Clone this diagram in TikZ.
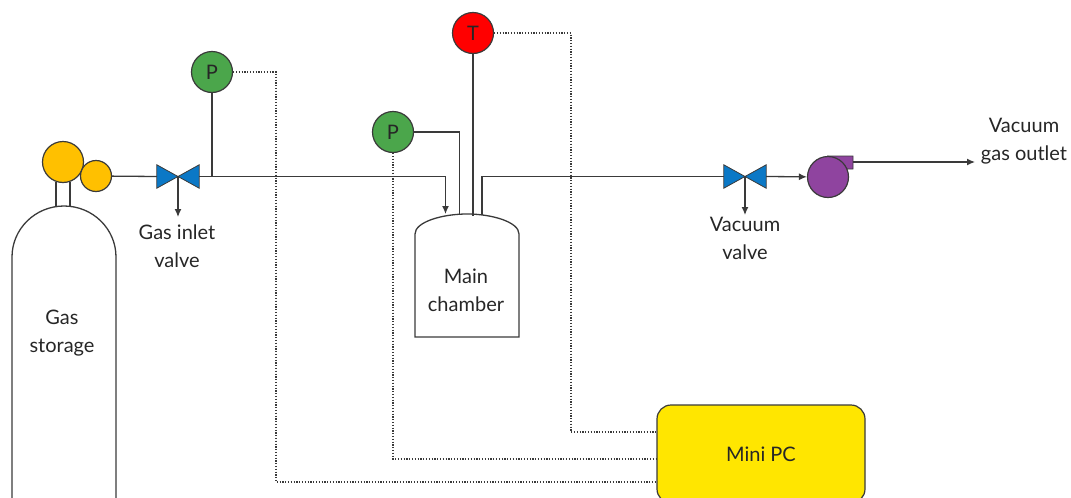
\documentclass[tikz,border=0pt]{standalone}
\usepackage{fontspec}
\setmainfont{Lato}
\usetikzlibrary{arrows.meta, positioning}
\definecolor{linegray}{HTML}{3A3A3A}
\definecolor{gasorange}{HTML}{FFC000}
\definecolor{valveblue}{HTML}{0B78C6}
\definecolor{gaugegreen}{HTML}{4BA64B}
\definecolor{pumppurple}{HTML}{8F449F}
\definecolor{pcyellow}{HTML}{FFE600}
\tikzset{
        >={Latex[length=8pt, width=7pt]}, % arrow heads of the pipes
        x=1pt, y=-1pt, % one unit is one pixel of the picture, y points down
        every node/.style={font=\fontsize{20}{28}\selectfont, align=center, text=black!85}, % sets the labels
        pipe/.style={draw=linegray, line width=1.3pt}, % solid gas lines
        signal/.style={draw=linegray, line width=1.1pt, dash pattern=on 1.2pt off 1.6pt}, % dotted sensor wires
        gauge/.style={circle, draw=linegray, line width=1.2pt, minimum size=41pt, inner sep=0pt}, % sensor circles
        valve/.style={minimum width=42pt, minimum height=23pt, inner sep=0pt}, % box around the valve blades
        blade/.style={draw=linegray, line width=0.8pt, fill=valveblue},
    }
\begin{document}
\begin{tikzpicture}
    \useasboundingbox (0,0) rectangle (1071,498);
    \clip (0,0) rectangle (1071,498);

    % gas bottle
    \draw[pipe] (12,498) -- (12,257) arc[start angle=180, end angle=360, x radius=52, y radius=51] -- (116,498);
    \draw[pipe] (56,206) -- (56,182) (70,206) -- (70,182);
    \node[gauge, fill=gasorange] (bottle) at (63,162) {};
    \node[gauge, fill=gasorange, minimum size=31pt] (reducer) at (96,176) {};
    \node at (62,333) (storage) {Gas\\storage};

    % main chamber
    \draw[pipe] (415,337) -- (415,234) .. controls (415,222) and (442,214) .. (467,214)
        .. controls (492,214) and (519,222) .. (519,234) -- (519,337) -- cycle;
    \node (chamber) at (466,290) {Main\\chamber};
    \coordinate (chamberin) at (445.5,214);
    \coordinate (chamberp) at (459.5,214);
    \coordinate (chambert) at (473,216);
    \coordinate (chamberout) at (482,215);

    % valves
    \node[valve] (inlet) at (178,176.5) {};
    \node[valve] (vacuum) at (745,176.5) {};
    \node (inletlabel) at (177,246) {Gas inlet\\valve};
    \node (vacuumlabel) at (745,238) {Vacuum\\valve};

    % sensors and pc
    \node[gauge, fill=gaugegreen] (P1) at (212,72) {P};
    \node[gauge, fill=gaugegreen] (P2) at (393,132) {P};
    \node[gauge, fill=red] (T) at (473,33) {T};
    \node[draw=linegray, line width=1.2pt, fill=pcyellow, rounded corners=14pt, minimum width=208pt, minimum height=98pt] (pc) at (761,454) {Mini PC};

    % pump
    \node[coordinate] (tab) at (853,162) {};
    \draw[pipe, line width=0.8pt, fill=pumppurple] (828,156) -- (853,156) -- (853,169) -- (840,169) -- cycle;
    \node[gauge, fill=pumppurple] (pump) at (828,177) {};
    \node (outlet) at (1024,141) {Vacuum\\gas outlet};
    \coordinate (outletend) at (975,162);

    % gas lines
    \draw[pipe] (reducer) -- (inlet.west);
    \draw[pipe, ->] (inlet.east) -| (chamberin);
    \draw[pipe] (P1) -- (P1 |- inlet);
    \draw[pipe] (P2) -| (chamberp);
    \draw[pipe] (T) -- (chambert);
    \draw[pipe] (chamberout) |- (vacuum.west);
    \draw[pipe, ->] (vacuum.east) -- (pump);
    \draw[pipe, ->] (tab) -- (outletend);
    \draw[pipe, ->] (inlet.center) -- (178,217);
    \draw[pipe, ->] (vacuum.center) -- (745,215);

    % valve blades
    \draw[blade] (inlet.north west) -- (inlet.south west) -- (inlet.center) -- cycle;
    \draw[blade] (inlet.north east) -- (inlet.south east) -- (inlet.center) -- cycle;
    \draw[blade] (vacuum.north west) -- (vacuum.south west) -- (vacuum.center) -- cycle;
    \draw[blade] (vacuum.north east) -- (vacuum.south east) -- (vacuum.center) -- cycle;

    % sensor wires
    \draw[signal] (T.east) -- (571,33) |- (pc.west |- 0,432);
    \draw[signal] (P2.south) |- (pc.west |- 0,459);
    \draw[signal] (P1.east) -- (276,72) |- (pc.west |- 0,482);
\end{tikzpicture}
\end{document}
